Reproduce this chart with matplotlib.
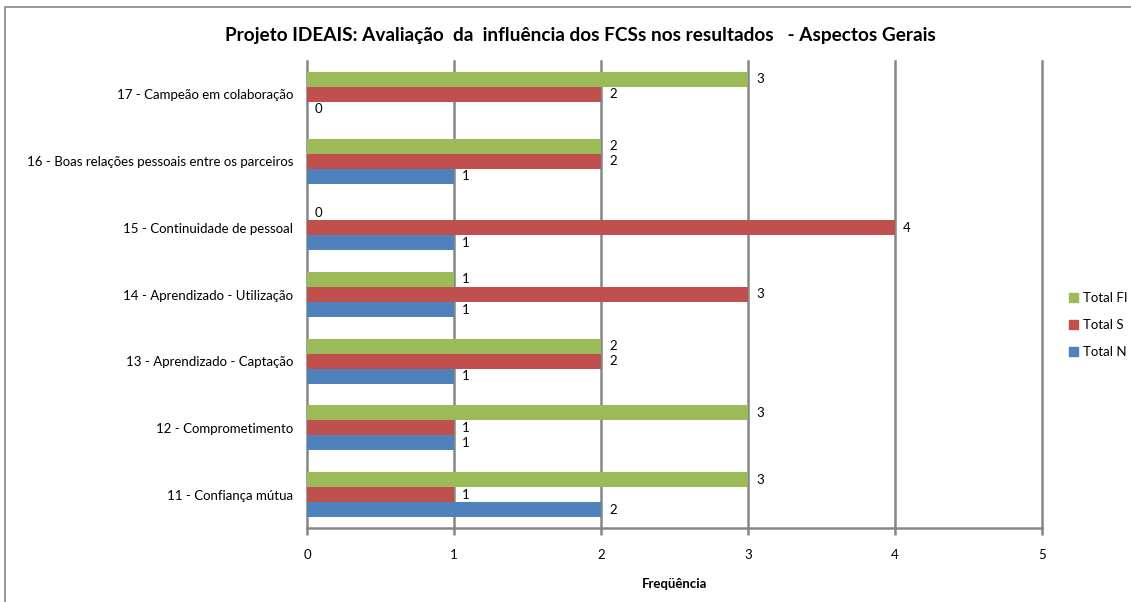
import matplotlib
matplotlib.use("Agg")
import matplotlib.pyplot as plt
from matplotlib.patches import Rectangle, Patch
import numpy as np

plt.rcParams['font.family'] = ['Lato', 'DejaVu Sans']

categories = ["11 - Confiança mútua", "12 - Comprometimento", "13 - Aprendizado - Captação",
              "14 - Aprendizado - Utilização", "15 - Continuidade de pessoal",
              "16 - Boas relações pessoais entre os parceiros", "17 - Campeão em colaboração"]
total_n = [2, 1, 1, 1, 1, 1, 0]
total_s = [1, 1, 2, 3, 4, 2, 2]
total_fi = [3, 3, 2, 1, 0, 2, 3]
series_names = ["Total N", "Total S", "Total FI"]
colors = ["#4F81BD", "#C0504D", "#9BBB59"]

W, H = 1131, 602
fig = plt.figure(figsize=(W / 100, H / 100), dpi=100)
fig.patches.append(Rectangle((5 / W, -0.1), 1.2, 1 - 7 / H + 0.1, transform=fig.transFigure,
                             fill=False, edgecolor="#888888", linewidth=1.2))

ax = fig.add_axes([307 / W, 1 - 528 / H, (1042 - 307) / W, (528 - 61) / H])
y = np.arange(len(categories))
h = 0.225
grid_c = "#868686"
fs = 9.5
for i, (vals, c) in enumerate(zip([total_n, total_s, total_fi], colors)):
    pos = y + (i - 1) * h
    ax.barh(pos, vals, height=h, color=c, zorder=3, label=series_names[i])
    for p, v in zip(pos, vals):
        ax.text(v + 0.055, p, str(v), va="center", ha="left", fontsize=fs, color="black", zorder=4)

ax.set_xlim(0, 5)
ax.set_ylim(-0.5, len(categories) - 0.5)
ax.set_xticks(range(6))
ax.set_yticks(y)
ax.set_yticklabels(categories, fontsize=fs)
for x in range(6):
    ax.axvline(x, color=grid_c, linewidth=1.8, zorder=2, clip_on=False)
for s in ["top", "right", "left"]:
    ax.spines[s].set_visible(False)
ax.spines["bottom"].set_color(grid_c)
ax.spines["bottom"].set_linewidth(1.8)
ax.tick_params(axis="x", direction="out", length=5, width=1.8, color=grid_c, labelsize=fs, pad=10)
ax.tick_params(axis="y", length=0, pad=10)
ax.set_xlabel("Freqüência", fontsize=fs, fontweight="bold", labelpad=12)

fig.text(580 / W, 1 - 35 / H,
         "Projeto IDEAIS: Avaliação  da  influência dos FCSs nos resultados   - Aspectos Gerais",
         ha="center", va="center", fontsize=13.7, fontweight="bold")

handles = [Patch(color=colors[2]), Patch(color=colors[1]), Patch(color=colors[0])]
fig.legend(handles, ["Total FI", "Total S", "Total N"], loc="center left",
           bbox_to_anchor=(1069 / W, 1 - 325 / H), frameon=False, fontsize=fs,
           handlelength=0.65, handleheight=0.65, handletextpad=0.4, labelspacing=1.15,
           borderpad=0, borderaxespad=0)

fig.savefig("out.png", dpi=100)
